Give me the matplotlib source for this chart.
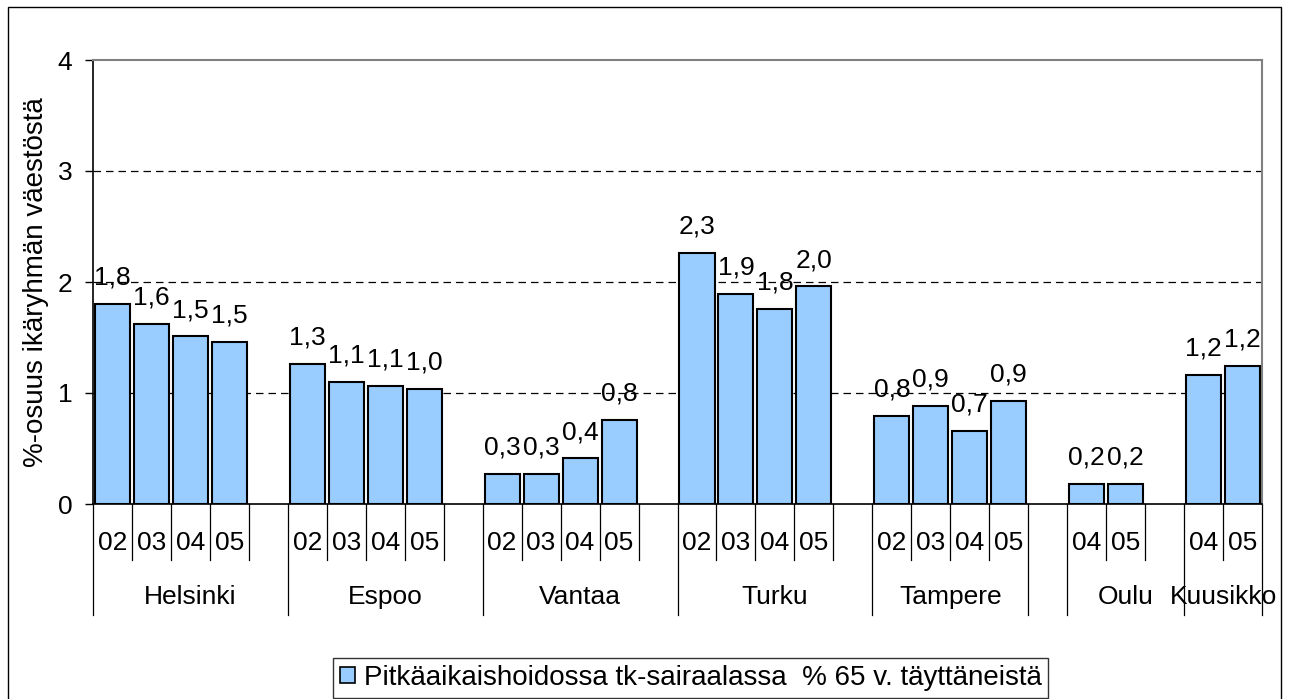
import matplotlib
matplotlib.use('Agg')
import matplotlib.pyplot as plt
from matplotlib.patches import Rectangle, Patch
from matplotlib.transforms import blended_transform_factory

plt.rcParams['font.family'] = ['Liberation Sans', 'DejaVu Sans']

# data: one list of years and values per city ('' / None = empty slot)
cities = ['Helsinki', 'Espoo', 'Vantaa', 'Turku', 'Tampere', '', 'Oulu', 'Kuusikko']
years = [
    ['02', '03', '04', '05', ''],
    ['02', '03', '04', '05', ''],
    ['02', '03', '04', '05', ''],
    ['02', '03', '04', '05', ''],
    ['02', '03', '04', '05'],
    [''],
    ['04', '05', ''],
    ['04', '05'],
]
values = [
    [1.80, 1.62, 1.51, 1.46, None],
    [1.26, 1.10, 1.06, 1.04, None],
    [0.27, 0.27, 0.41, 0.76, None],
    [2.26, 1.89, 1.76, 1.96, None],
    [0.79, 0.88, 0.66, 0.93],
    [None],
    [0.18, 0.18, None],
    [1.16, 1.24],
]
series_name = 'Pitkäaikaishoidossa tk-sairaalassa  % 65 v. täyttäneistä'

BAR_COLOR = '#99CCFF'
FS = 19

fig = plt.figure(figsize=(12.91, 6.99), dpi=100)
W, H = 1291, 699
ax = fig.add_axes([93 / W, 1 - 504 / H, (1262 - 93) / W, (504 - 60) / H])

pos = 0
xs, hs = [], []
group_edges = [0]
slot_labels = []
for city, yrs, vals in zip(cities, years, values):
    for yr, v in zip(yrs, vals):
        slot_labels.append((pos + 0.5, yr))
        if v is not None:
            xs.append(pos + 0.5)
            hs.append(v)
        pos += 1
    group_edges.append(pos)
nslots = pos

ax.bar(xs, hs, width=0.9, color=BAR_COLOR, edgecolor='black', linewidth=1.5, zorder=3)
for x, h in zip(xs, hs):
    ax.annotate(f'{h:.1f}'.replace('.', ','), (x, h), xytext=(0, 19),
                textcoords='offset points', ha='center', va='center', fontsize=FS)

ax.set_xlim(0, nslots)
ax.set_ylim(0, 4)
ax.set_yticks([0, 1, 2, 3, 4])
ax.set_yticklabels(['0', '1', '2', '3', '4'], fontsize=FS)
ax.tick_params(axis='y', length=6, width=1, direction='out', pad=9)
ax.set_xticks([])
for y in [1, 2, 3]:
    ax.axhline(y, color='black', linestyle=(0, (6, 4)), linewidth=0.9, zorder=1)

for side in ['top', 'right']:
    ax.spines[side].set_color('#808080')
    ax.spines[side].set_linewidth(1.5)
for side in ['left', 'bottom']:
    ax.spines[side].set_color('black')
    ax.spines[side].set_linewidth(1.2)

ax.set_ylabel('%-osuus ikäryhmän väestöstä', fontsize=20, labelpad=6)

# two-level category axis
trans = blended_transform_factory(ax.transData, ax.transAxes)
short_y = -56 / 444
long_y = -111 / 444
for e in range(nslots + 1):
    yend = long_y if e in group_edges else short_y
    ax.plot([e, e], [0, yend], color='black', linewidth=0.9, transform=trans, clip_on=False)
for x, lab in slot_labels:
    ax.text(x, -39 / 444, lab, transform=trans, ha='center', va='center', fontsize=FS)
for i, city in enumerate(cities):
    cx = (group_edges[i] + group_edges[i + 1]) / 2
    ax.text(cx, -93 / 444, city, transform=trans, ha='center', va='center', fontsize=FS)

# outer chart frame
fig.add_artist(Rectangle((8 / W, -0.05), (1281 - 8) / W, 1.05 - 7 / H,
                         transform=fig.transFigure, fill=False, edgecolor='black', linewidth=1))

leg = fig.legend(handles=[Patch(facecolor=BAR_COLOR, edgecolor='black', linewidth=1.2)],
                 labels=[series_name], loc='upper left',
                 bbox_to_anchor=(333 / W, 1 - 658 / H), fontsize=20,
                 frameon=True, fancybox=False, borderaxespad=0, handlelength=0.55,
                 handleheight=0.55, handletextpad=0.3, borderpad=0.25)
leg.get_frame().set_edgecolor('black')
leg.get_frame().set_linewidth(1)

fig.savefig('out.png', dpi=100)
